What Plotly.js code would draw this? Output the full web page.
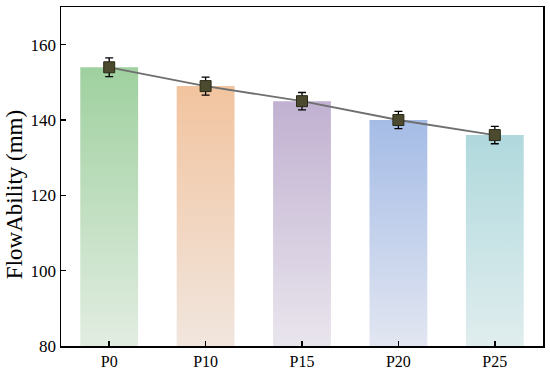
<!DOCTYPE html>
<html>
<head>
<meta charset="utf-8">
<script src="https://cdn.plot.ly/plotly-3.0.1.min.js"></script>
<style>html,body{margin:0;padding:0;background:#fff;}#chart{width:550px;height:374px;}</style>
</head>
<body>
<div id="chart"></div>
<script>
const categories = ['P0', 'P10', 'P15', 'P20', 'P25'];
const flowValues = [154, 149, 145, 140, 136];
const errorValues = [2.5, 2.4, 2.3, 2.3, 2.3];
const topColors = ['#9fd09f', '#f2c49f', '#c1b1d1', '#a5bce6', '#b0d9dd'];
const bottomColors = ['#e2ede2', '#f1e6de', '#e9e5ed', '#e2e6f1', '#e0edee'];
const yTicks = [80, 100, 120, 140, 160];
const yTitle = 'FlowAbility (mm)';
const barBase = 80;

const font = {family: '"Liberation Serif", "Times New Roman", serif', color: '#000'};

const bars = {
  type: 'bar', x: categories, y: flowValues.map(v => v - barBase), base: barBase,
  width: 0.6,
  marker: {color: topColors, line: {width: 0}},
  hoverinfo: 'skip', showlegend: false
};

const line = {
  type: 'scatter', mode: 'lines+markers', x: categories, y: flowValues,
  line: {color: '#6f6f6f', width: 1.8},
  marker: {symbol: 'square', size: 11, color: '#4c4a2e', line: {color: '#2a2a18', width: 1}},
  error_y: {type: 'data', array: errorValues, visible: true, color: '#000', thickness: 1.3, width: 4},
  showlegend: false
};

const layout = {
  width: 550, height: 374,
  margin: {l: 61, r: 7, t: 7, b: 28},
  paper_bgcolor: '#fff', plot_bgcolor: '#fff',
  font: font,
  showlegend: false,
  xaxis: {
    type: 'category', range: [-0.5, 4.5],
    showline: true, linecolor: '#000', linewidth: 1.5, mirror: true,
    ticks: 'inside', ticklen: 5, tickwidth: 1.5, tickcolor: '#000',
    showgrid: false, zeroline: false,
    tickfont: {family: font.family, size: 16, color: '#000'}
  },
  yaxis: {
    range: [80, 170],
    tickvals: yTicks, ticktext: yTicks.map(String),
    showline: true, linecolor: '#000', linewidth: 1.5, mirror: true,
    ticks: 'inside', ticklen: 5, tickwidth: 1.5, tickcolor: '#000',
    showgrid: false, zeroline: false,
    tickfont: {family: font.family, size: 17, color: '#000'}
  },
  annotations: [{
    text: yTitle, textangle: -90, showarrow: false,
    xref: 'paper', yref: 'paper', x: -0.0975, y: 0.445,
    xanchor: 'center', yanchor: 'middle',
    font: {family: font.family, size: 23, color: '#000'}
  }]
};

Plotly.newPlot('chart', [bars, line], layout, {staticPlot: true}).then(gd => {
  const svg = gd.querySelector('svg.main-svg');
  const ns = 'http://www.w3.org/2000/svg';
  let defs = svg.querySelector('defs');
  if (!defs) { defs = document.createElementNS(ns, 'defs'); svg.insertBefore(defs, svg.firstChild); }
  const paths = gd.querySelectorAll('.barlayer .point path');
  paths.forEach((p, i) => {
    const g = document.createElementNS(ns, 'linearGradient');
    g.setAttribute('id', 'barGrad' + i);
    g.setAttribute('x1', '0'); g.setAttribute('y1', '0');
    g.setAttribute('x2', '0'); g.setAttribute('y2', '1');
    const s1 = document.createElementNS(ns, 'stop');
    s1.setAttribute('offset', '0'); s1.setAttribute('stop-color', topColors[i]);
    const s2 = document.createElementNS(ns, 'stop');
    s2.setAttribute('offset', '1'); s2.setAttribute('stop-color', bottomColors[i]);
    g.appendChild(s1); g.appendChild(s2);
    defs.appendChild(g);
    p.style.fill = 'url(#barGrad' + i + ')';
    p.style.fillOpacity = 1;
  });
});
</script>
</body>
</html>
